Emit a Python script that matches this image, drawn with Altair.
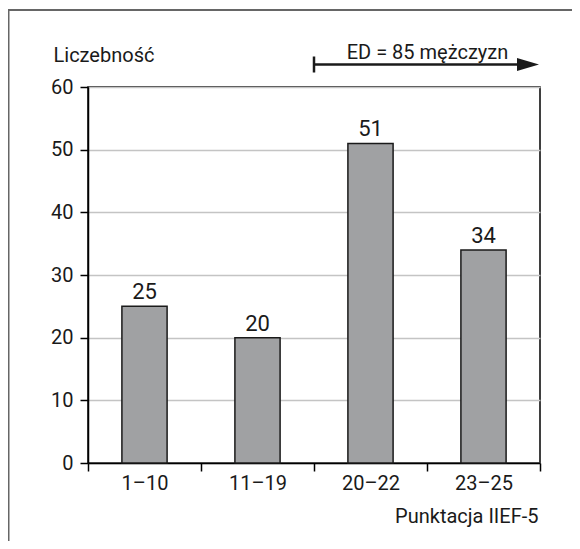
import altair as alt
import pandas as pd

categories = ["1–10", "11–19", "20–22", "23–25"]
counts = [25, 20, 51, 34]
y_ticks = [0, 10, 20, 30, 40, 50, 60]
annotation = "ED = 85 mężczyzn"

FONT = "Roboto, Liberation Sans, sans-serif"
INK = "#1a1a1a"
FS = 20

df = pd.DataFrame({"cat": categories, "n": counts})

x = alt.X(
    "cat:N",
    sort=categories,
    scale=alt.Scale(paddingInner=0, paddingOuter=0),
    axis=alt.Axis(
        title="Punktacja IIEF-5",
        titleX=450,
        titleY=59,
        titleAlign="right",
        titleBaseline="alphabetic",
        titleFontSize=FS,
        titleFontWeight="normal",
        titleFont=FONT,
        titleColor=INK,
        labelAngle=0,
        labelFontSize=FS,
        labelFont=FONT,
        labelColor=INK,
        labelPadding=2,
        tickBand="extent",
        tickSize=8,
        grid=False,
    ),
)
y = alt.Y(
    "n:Q",
    scale=alt.Scale(domain=[0, 60], nice=False),
    axis=alt.Axis(
        values=y_ticks,
        title="Liczebność",
        titleAngle=0,
        titleX=-35,
        titleY=-26,
        titleAlign="left",
        titleBaseline="alphabetic",
        titleFontSize=FS,
        titleFontWeight="normal",
        titleFont=FONT,
        titleColor=INK,
        labelFontSize=FS,
        labelFont=FONT,
        labelColor=INK,
        labelPadding=7,
        tickSize=8,
        grid=True,
        gridColor="#c4c4c4",
        gridWidth=1.5,
    ),
)

base = alt.Chart(df)
bars = base.mark_bar(
    width=alt.RelativeBandSize(0.4), color="#a0a1a3", stroke=INK, strokeWidth=1.5
).encode(x=x, y=y)
labels = base.mark_text(
    dy=-7, baseline="alphabetic", fontSize=22, font=FONT, color=INK
).encode(x=x, y=y, text="n:Q")

anno = alt.Chart(pd.DataFrame({"a": [0]}))
border_left = anno.mark_rule(color="#666666", strokeWidth=2).encode(
    x=alt.value(-79.5), y=alt.value(-77), y2=alt.value(500)
)
border_top = anno.mark_rule(color="#666666", strokeWidth=2).encode(
    x=alt.value(-80), x2=alt.value(520), y=alt.value(-77)
)
arrow_line = anno.mark_rule(color=INK, strokeWidth=2.5).encode(
    x=alt.value(226), x2=alt.value(432), y=alt.value(-22.5)
)
arrow_start = anno.mark_rule(color=INK, strokeWidth=2.5).encode(
    x=alt.value(226), y=alt.value(-30.5), y2=alt.value(-14.5)
)
arrow_head = anno.mark_point(
    shape="M -1 -0.6 L 1 0 L -1 0.6 Z", filled=True, size=484, color=INK, opacity=1
).encode(x=alt.value(440), y=alt.value(-22.5))
anno_text = anno.mark_text(
    text=annotation, fontSize=FS, font=FONT, baseline="alphabetic", align="center", color=INK
).encode(x=alt.value(339.5), y=alt.value(-28))

chart = (
    alt.layer(border_left, border_top, bars, labels, arrow_line, arrow_start, arrow_head, anno_text)
    .properties(
        width=452,
        height=376,
        padding={"left": 80, "top": 79, "right": 32, "bottom": 78},
        autosize=alt.AutoSizeParams(type="none"),
        background="white",
    )
    .configure_view(stroke="black", strokeWidth=1.5)
    .configure_axis(domainColor="black", domainWidth=1.5, tickColor="black", tickWidth=1.5)
)

chart.save("out.html", embed_options={"renderer": "svg", "actions": False})
